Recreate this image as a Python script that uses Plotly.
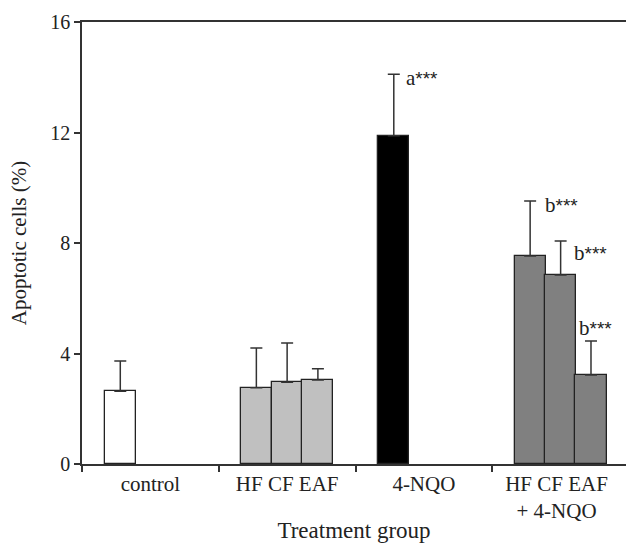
import plotly.graph_objects as go

groups = ["control", "HF CF EAF", "4-NQO", "HF CF EAF<br>+ 4-NQO"]
# bar positions within the numeric x axis (group i spans [i, i+1])
bar_x = [0.28, 1.275, 1.5, 1.725, 2.28, 3.277, 3.5, 3.722]
bar_names = ["control", "HF", "CF", "EAF", "4-NQO", "HF+4-NQO", "CF+4-NQO", "EAF+4-NQO"]
values = [2.63, 2.76, 2.96, 3.04, 11.88, 7.53, 6.84, 3.22]
err_top = [3.73, 4.2, 4.38, 3.45, 14.11, 9.52, 8.07, 4.45]
colors = ["#ffffff", "#c0c0c0", "#c0c0c0", "#c0c0c0", "#000000", "#808080", "#808080", "#808080"]

sig_labels = ["a", "b", "b", "b"]
sig_x = [2.355, 3.37, 3.58, 3.62]
sig_y = [13.97, 9.37, 7.64, 4.92]

errs = [t - v for t, v in zip(err_top, values)]

SERIF = "Liberation Serif, Times New Roman, serif"

fig = go.Figure()
fig.add_trace(go.Bar(
    x=bar_x, y=values, width=0.228,
    marker=dict(color=colors, line=dict(color="#222222", width=1.3)),
    error_y=dict(type="data", symmetric=False, array=errs,
                 arrayminus=[0] * len(errs), color="#333333",
                 thickness=1.5, width=6),
    hovertext=bar_names, showlegend=False,
))

for lab, x, y in zip(sig_labels, sig_x, sig_y):
    fig.add_annotation(
        x=x, y=y, xref="x", yref="y", xanchor="left", yanchor="middle",
        text=lab + "<span style='font-family:Liberation Sans;font-size:19px'>***</span>",
        showarrow=False,
        font=dict(family=SERIF, size=21, color="#222222"),
    )

fig.update_layout(
    width=626, height=543,
    margin=dict(l=82, r=0, t=22, b=79),
    paper_bgcolor="white", plot_bgcolor="white",
    font=dict(family=SERIF, size=20, color="#222222"),
    bargap=0,
)
fig.update_xaxes(
    range=[0, 3.978], automargin=False,
    tickvals=[0.5, 1.5, 2.5, 3.47], ticktext=groups, ticks="",
    tickfont=dict(family=SERIF, size=21),
    minor=dict(tickvals=[0, 1, 2, 3, 4], ticks="outside", ticklen=6,
               tickcolor="#333333", tickwidth=1.5, showgrid=False),
    showline=True, linecolor="#333333", linewidth=1.5, mirror=True,
    showgrid=False, zeroline=False,
    title=dict(text="Treatment group", font=dict(family=SERIF, size=23), standoff=7),
)
fig.update_yaxes(
    range=[0, 16], tickvals=[0, 4, 8, 12, 16], automargin=False,
    ticks="outside", ticklen=6, tickcolor="#333333", tickwidth=1.5,
    tickfont=dict(family=SERIF, size=20),
    showline=True, linecolor="#333333", linewidth=1.5,
    showgrid=False, zeroline=False,
    title=dict(text="Apoptotic cells (%)", font=dict(family=SERIF, size=21), standoff=18),
)

fig.write_html(
    "out.html",
    config={"displayModeBar": False},
    post_script="document.body.style.margin='0';document.body.style.overflow='hidden';",
)
